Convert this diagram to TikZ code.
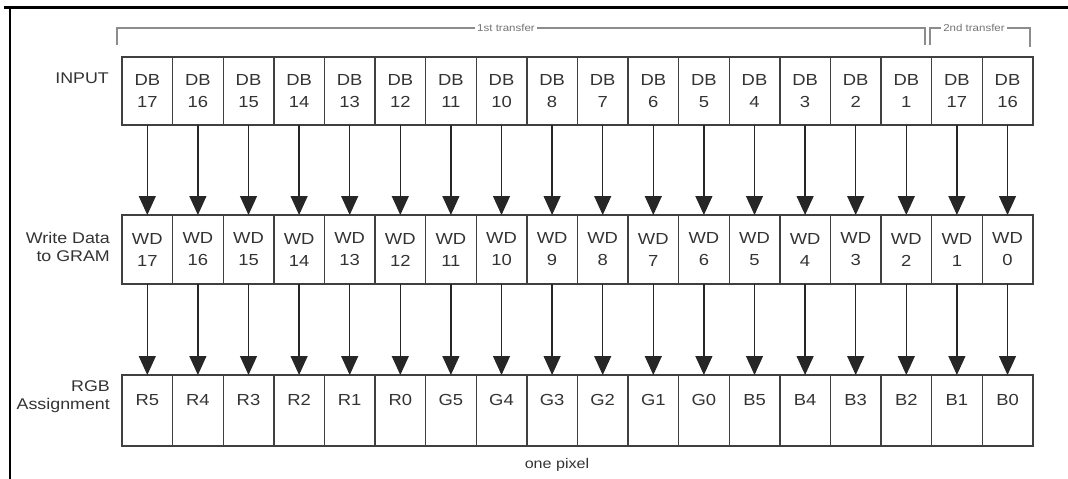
\documentclass[tikz,border=0pt]{standalone}
\usepackage{fontspec}
\setmainfont{Liberation Sans}[FakeStretch=1.15]
\usetikzlibrary{arrows.meta,positioning}

\begin{document}
\begin{tikzpicture}[
    x=1pt, y=-1pt,
    cell/.style={rectangle, draw=black!75, line width=1.4pt, minimum width=50.6pt, minimum height=68pt, inner sep=0pt, outer sep=0pt, align=center, text=black!80, font=\fontsize{16}{22}\selectfont},
    rgbcell/.style={cell, minimum height=71pt, text height=11pt, text depth=22pt},
    lbl/.style={anchor=east, align=right, inner sep=0pt, text=black!80, font=\fontsize{15.5}{18}\selectfont},
    arrow/.style={-{Triangle[width=17pt,length=19pt]}, draw=black!85, line width=1.3pt},
    brk/.style={draw=black!45, line width=1.3pt},
    brktext/.style={text=black!55, inner sep=2pt, font=\fontsize{10}{12}\selectfont}
]
    \useasboundingbox (0,0) rectangle (1068,479);
    \draw[line width=3pt] (4,7) -- (1068,7);
    \draw[line width=2.5pt] (10,6) -- (10,479);

    \node[brktext] (first) at (506,28) {1st transfer};
    \node[brktext] (second) at (974,28) {2nd transfer};
    \draw[brk] (117,45) |- (first.west);
    \draw[brk] (first.east) -| (925,45);
    \draw[brk] (930,45) |- (second.west);
    \draw[brk] (second.east) -| (1030,47);

    \node[lbl] (input) at (109,78) {INPUT};
    \node[lbl] (write) at (110,247) {Write Data\\to GRAM};
    \node[lbl] (assign) at (110,397) {RGB\\Assignment};

    \foreach \b [count=\i] in {17,16,15,14,13,12,11,10,8,7,6,5,4,3,2,1,17,16}
        \node[cell] (in\i) at ({96.7+50.6*\i},91) {DB\\\b};
    \foreach \w [count=\i] in {17,...,0}
        \node[cell, minimum height=69pt, below=90pt of in\i] (wd\i) {WD\\\w};
    \foreach \r [count=\i] in {R5,R4,R3,R2,R1,R0,G5,G4,G3,G2,G1,G0,B5,B4,B3,B2,B1,B0}
        \node[rgbcell, below=91pt of wd\i] (rgb\i) {\r};

    \foreach \i in {1,...,18} {
        \draw[arrow] (in\i) -- (wd\i);
        \draw[arrow] (wd\i) -- (rgb\i);
    }

    \node[text=black!80, font=\fontsize{14}{16}\selectfont] (pixel) at (557,465) {one pixel};
\end{tikzpicture}
\end{document}
